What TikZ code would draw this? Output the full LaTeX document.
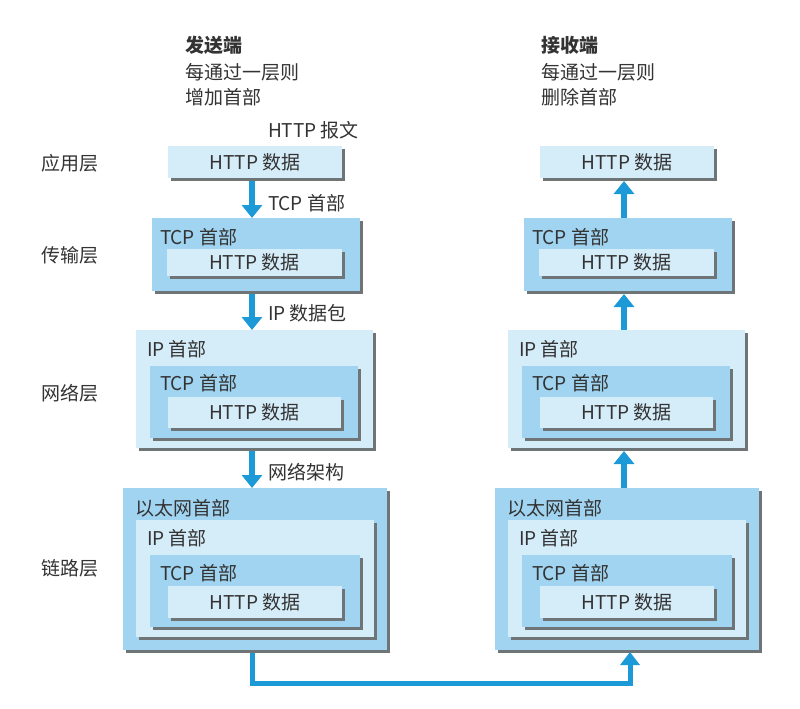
\documentclass[tikz,border=0pt]{standalone}
\usepackage{fontspec}
\setmainfont{Noto Sans CJK SC}
\usetikzlibrary{arrows.meta,shadows}
\definecolor{boxlight}{HTML}{D5ECF9}
\definecolor{boxmid}{HTML}{A0D4F0}
\definecolor{shade}{HTML}{6F7477}
\definecolor{arrowblue}{HTML}{1B9AD7}
\definecolor{ink}{HTML}{333333}
\begin{document}
\begin{tikzpicture}[x=1pt,y=-1pt,
  font=\fontsize{19}{22}\selectfont, text=ink,
  pbox/.style={rectangle, inner sep=0pt, outer sep=0pt, draw=none,
    general shadow={fill=shade, shadow xshift=3pt, shadow yshift=-3pt}},
  light/.style={pbox, fill=boxlight},
  mid/.style={pbox, fill=boxmid},
  txt/.style={inner sep=0pt, outer sep=0pt, anchor=west},
  ctxt/.style={inner sep=0pt, outer sep=0pt},
  flow/.style={draw=arrowblue, line width=6pt, -{Triangle[width=20pt,length=13pt]}},
  link/.style={draw=arrowblue, line width=5pt, -{Triangle[width=19pt,length=13pt]}}]
\path[fill=white, use as bounding box] (0,0) rectangle (800,709);

% headings
\node[txt, font=\fontsize{19}{22}\selectfont\bfseries] (sh1) at (185,45) {发送端};
\node[txt] (sh2) at (185,72) {每通过一层则};
\node[txt] (sh3) at (185,97) {增加首部};
\node[txt, font=\fontsize{19}{22}\selectfont\bfseries] (rh1) at (541,45) {接收端};
\node[txt] (rh2) at (541,72) {每通过一层则};
\node[txt] (rh3) at (541,97) {删除首部};

% layer names
\node[ctxt] (n1) at (70,163) {应用层};
\node[ctxt] (n2) at (70,255) {传输层};
\node[ctxt] (n3) at (70,393) {网络层};
\node[ctxt] (n4) at (70,568) {链路层};

% ---------- left column ----------
\node[txt] (msg) at (268,130) {HTTP 报文};
\node[light, minimum width=174pt, minimum height=32pt] (la) at (255,162) {};
\node[ctxt] at (la.center) {HTTP 数据};

\node[mid, minimum width=208pt, minimum height=73pt] (lt) at (256,254.5) {};
\node[txt] at ([shift={(8,19)}]lt.north west) {TCP 首部};
\node[light, minimum width=175pt, minimum height=27pt] (lth) at (254.5,262.5) {};
\node[ctxt] at (lth.center) {HTTP 数据};

\node[light, minimum width=237pt, minimum height=118pt] (ln) at (254.5,389) {};
\node[txt] at ([shift={(11,19)}]ln.north west) {IP 首部};
\node[mid, minimum width=208pt, minimum height=72pt] (lnt) at (254,402) {};
\node[txt] at ([shift={(10,17)}]lnt.north west) {TCP 首部};
\node[light, minimum width=173pt, minimum height=31pt] (lnh) at (254.5,412.5) {};
\node[ctxt] at (lnh.center) {HTTP 数据};

\node[mid, minimum width=264pt, minimum height=162pt] (ll) at (255,569) {};
\node[txt] at ([shift={(12,20)}]ll.north west) {以太网首部};
\node[light, minimum width=238pt, minimum height=117pt] (lli) at (255,578.5) {};
\node[txt] at ([shift={(11,18)}]lli.north west) {IP 首部};
\node[mid, minimum width=210pt, minimum height=72pt] (llt) at (255,591) {};
\node[txt] at ([shift={(10,18)}]llt.north west) {TCP 首部};
\node[light, minimum width=174pt, minimum height=32pt] (llh) at (255,602) {};
\node[ctxt] at (llh.center) {HTTP 数据};

% ---------- right column ----------
\node[light, minimum width=174pt, minimum height=32pt] (ra) at (627,162) {};
\node[ctxt] at (ra.center) {HTTP 数据};

\node[mid, minimum width=208pt, minimum height=73pt] (rt) at (628,254.5) {};
\node[txt] at ([shift={(8,19)}]rt.north west) {TCP 首部};
\node[light, minimum width=175pt, minimum height=27pt] (rth) at (626.5,262.5) {};
\node[ctxt] at (rth.center) {HTTP 数据};

\node[light, minimum width=237pt, minimum height=118pt] (rn) at (626.5,389) {};
\node[txt] at ([shift={(11,19)}]rn.north west) {IP 首部};
\node[mid, minimum width=208pt, minimum height=72pt] (rnt) at (626,402) {};
\node[txt] at ([shift={(10,17)}]rnt.north west) {TCP 首部};
\node[light, minimum width=173pt, minimum height=31pt] (rnh) at (626.5,412.5) {};
\node[ctxt] at (rnh.center) {HTTP 数据};

\node[mid, minimum width=264pt, minimum height=162pt] (rl) at (627,569) {};
\node[txt] at ([shift={(12,20)}]rl.north west) {以太网首部};
\node[light, minimum width=238pt, minimum height=117pt] (rli) at (627,578.5) {};
\node[txt] at ([shift={(11,18)}]rli.north west) {IP 首部};
\node[mid, minimum width=210pt, minimum height=72pt] (rlt) at (627,591) {};
\node[txt] at ([shift={(10,18)}]rlt.north west) {TCP 首部};
\node[light, minimum width=174pt, minimum height=32pt] (rlh) at (627,602) {};
\node[ctxt] at (rlh.center) {HTTP 数据};

% ---------- arrows ----------
\coordinate (axL) at (252,0);
\coordinate (axR) at (624,0);
\draw[flow] ([yshift=-3pt]la.south -| axL) -- (lt.north -| axL);
\draw[flow] ([yshift=-3pt]lt.south -| axL) -- (ln.north -| axL);
\draw[flow] ([yshift=-3pt]ln.south -| axL) -- (ll.north -| axL);
\node[txt] (lab1) at (268,203) {TCP 首部};
\node[txt] (lab2) at (268,313) {IP 数据包};
\node[txt] (lab3) at (268,472) {网络架构};

\draw[flow] (rt.north -| axR) -- ([yshift=-3pt]ra.south -| axR);
\draw[flow] (rn.north -| axR) -- ([yshift=-3pt]rt.south -| axR);
\draw[flow] (rl.north -| axR) -- ([yshift=-3pt]rn.south -| axR);

\coordinate (bL) at (252,683);
\coordinate (bR) at (630,683);
\draw[link] ([yshift=-3pt]ll.south -| bL) -- (bL) -- (bR) -- ([yshift=-2pt]rl.south -| bR);
\end{tikzpicture}
\end{document}
